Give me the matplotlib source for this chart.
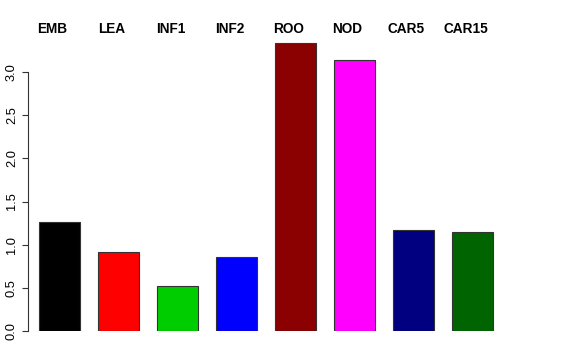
import matplotlib
matplotlib.use('Agg')
import matplotlib.pyplot as plt
import numpy as np

plt.rcParams['font.family'] = ['Liberation Sans', 'DejaVu Sans']

# Data
labels = ['EMB', 'LEA', 'INF1', 'INF2', 'ROO', 'NOD', 'CAR5', 'CAR15']
values = [1.26, 0.915, 0.52, 0.86, 3.34, 3.14, 1.17, 1.15]
colors = ['black', 'red', '#00CD00', 'blue', '#8B0000', 'magenta', '#000080', '#006400']

fig = plt.figure(figsize=(5.76, 3.6), dpi=100)
ax = fig.add_axes([28 / 576, 29 / 360, 496 / 576, 300 / 360])

x = np.arange(len(labels))
ax.bar(x, values, width=0.695, color=colors, edgecolor='#333333', linewidth=0.8)

for xi, lab in zip(x, labels):
    ax.text(xi - 0.12, 3.45, lab, ha='center', va='baseline',
            fontsize=9.8, fontweight='bold', clip_on=False)

ax.set_xlim(-0.534, 7.873)
ax.set_ylim(0, 3.476)

for s in ['top', 'right', 'bottom']:
    ax.spines[s].set_visible(False)
ax.spines['left'].set_bounds(0, 3)
ax.spines['left'].set_color('#333333')
ax.set_xticks([])
ax.set_yticks(np.arange(0, 3.01, 0.5))
ax.set_yticklabels(['%.1f' % v for v in np.arange(0, 3.01, 0.5)],
                   rotation=90, va='center', fontsize=9.3)
ax.tick_params(axis='y', length=4.3, pad=3, color='#333333')

fig.savefig('out.png', dpi=100)
